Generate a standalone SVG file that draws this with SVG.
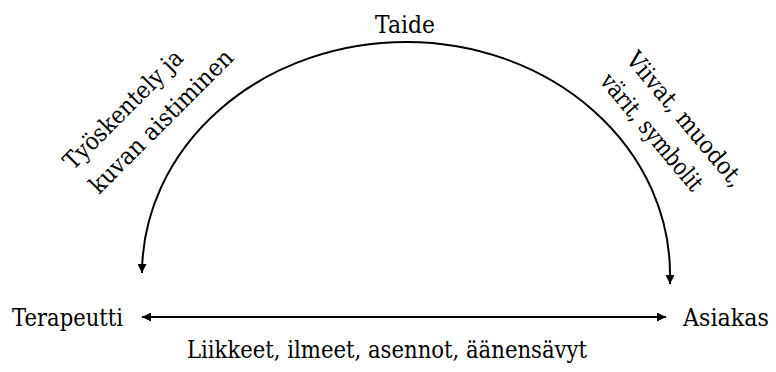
<svg xmlns="http://www.w3.org/2000/svg" width="776" height="372" viewBox="0 0 776 372">
<style>
text{font-family:"DejaVu Serif","Liberation Serif","Times New Roman",serif;font-size:24px;fill:#000}
.c{fill:none;stroke:#000;stroke-width:2}
</style>
<defs>
<marker id="ah" viewBox="0 0 10 10" refX="10" refY="5" markerWidth="9" markerHeight="9" markerUnits="userSpaceOnUse" orient="auto-start-reverse">
<path d="M0,0 L10,5 L0,10 z" fill="#000"/>
</marker>
</defs>
<rect width="776" height="372" fill="#fff"/>
<g id="connectors">
<path class="c" d="M 142 273 A 264 232 0 0 1 670 275 L 670 284" marker-start="url(#ah)" marker-end="url(#ah)"/>
<path class="c" d="M 142 317 L 666 317" marker-start="url(#ah)" marker-end="url(#ah)"/>
</g>
<g id="taide"><text x="375" y="33" textLength="60" lengthAdjust="spacingAndGlyphs">Taide</text></g>
<g id="terapeutti"><text x="12" y="326" textLength="111" lengthAdjust="spacingAndGlyphs">Terapeutti</text></g>
<g id="asiakas"><text x="683" y="326" textLength="86" lengthAdjust="spacingAndGlyphs">Asiakas</text></g>
<g id="label-bottom"><text x="187" y="358" textLength="400" lengthAdjust="spacingAndGlyphs">Liikkeet, ilmeet, asennot, äänensävyt</text></g>
<g id="label-left">
<text transform="translate(73,171) rotate(-45)" textLength="158" lengthAdjust="spacingAndGlyphs">Työskentely ja</text>
<text transform="translate(99,195) rotate(-45)" textLength="192" lengthAdjust="spacingAndGlyphs">kuvan aistiminen</text>
</g>
<g id="label-right">
<text transform="translate(625,60) rotate(50)" textLength="168" lengthAdjust="spacingAndGlyphs">Viivat, muodot,</text>
<text transform="translate(625,60) rotate(50) translate(0,34)" textLength="145" lengthAdjust="spacingAndGlyphs">värit, symbolit</text>
</g>
</svg>
